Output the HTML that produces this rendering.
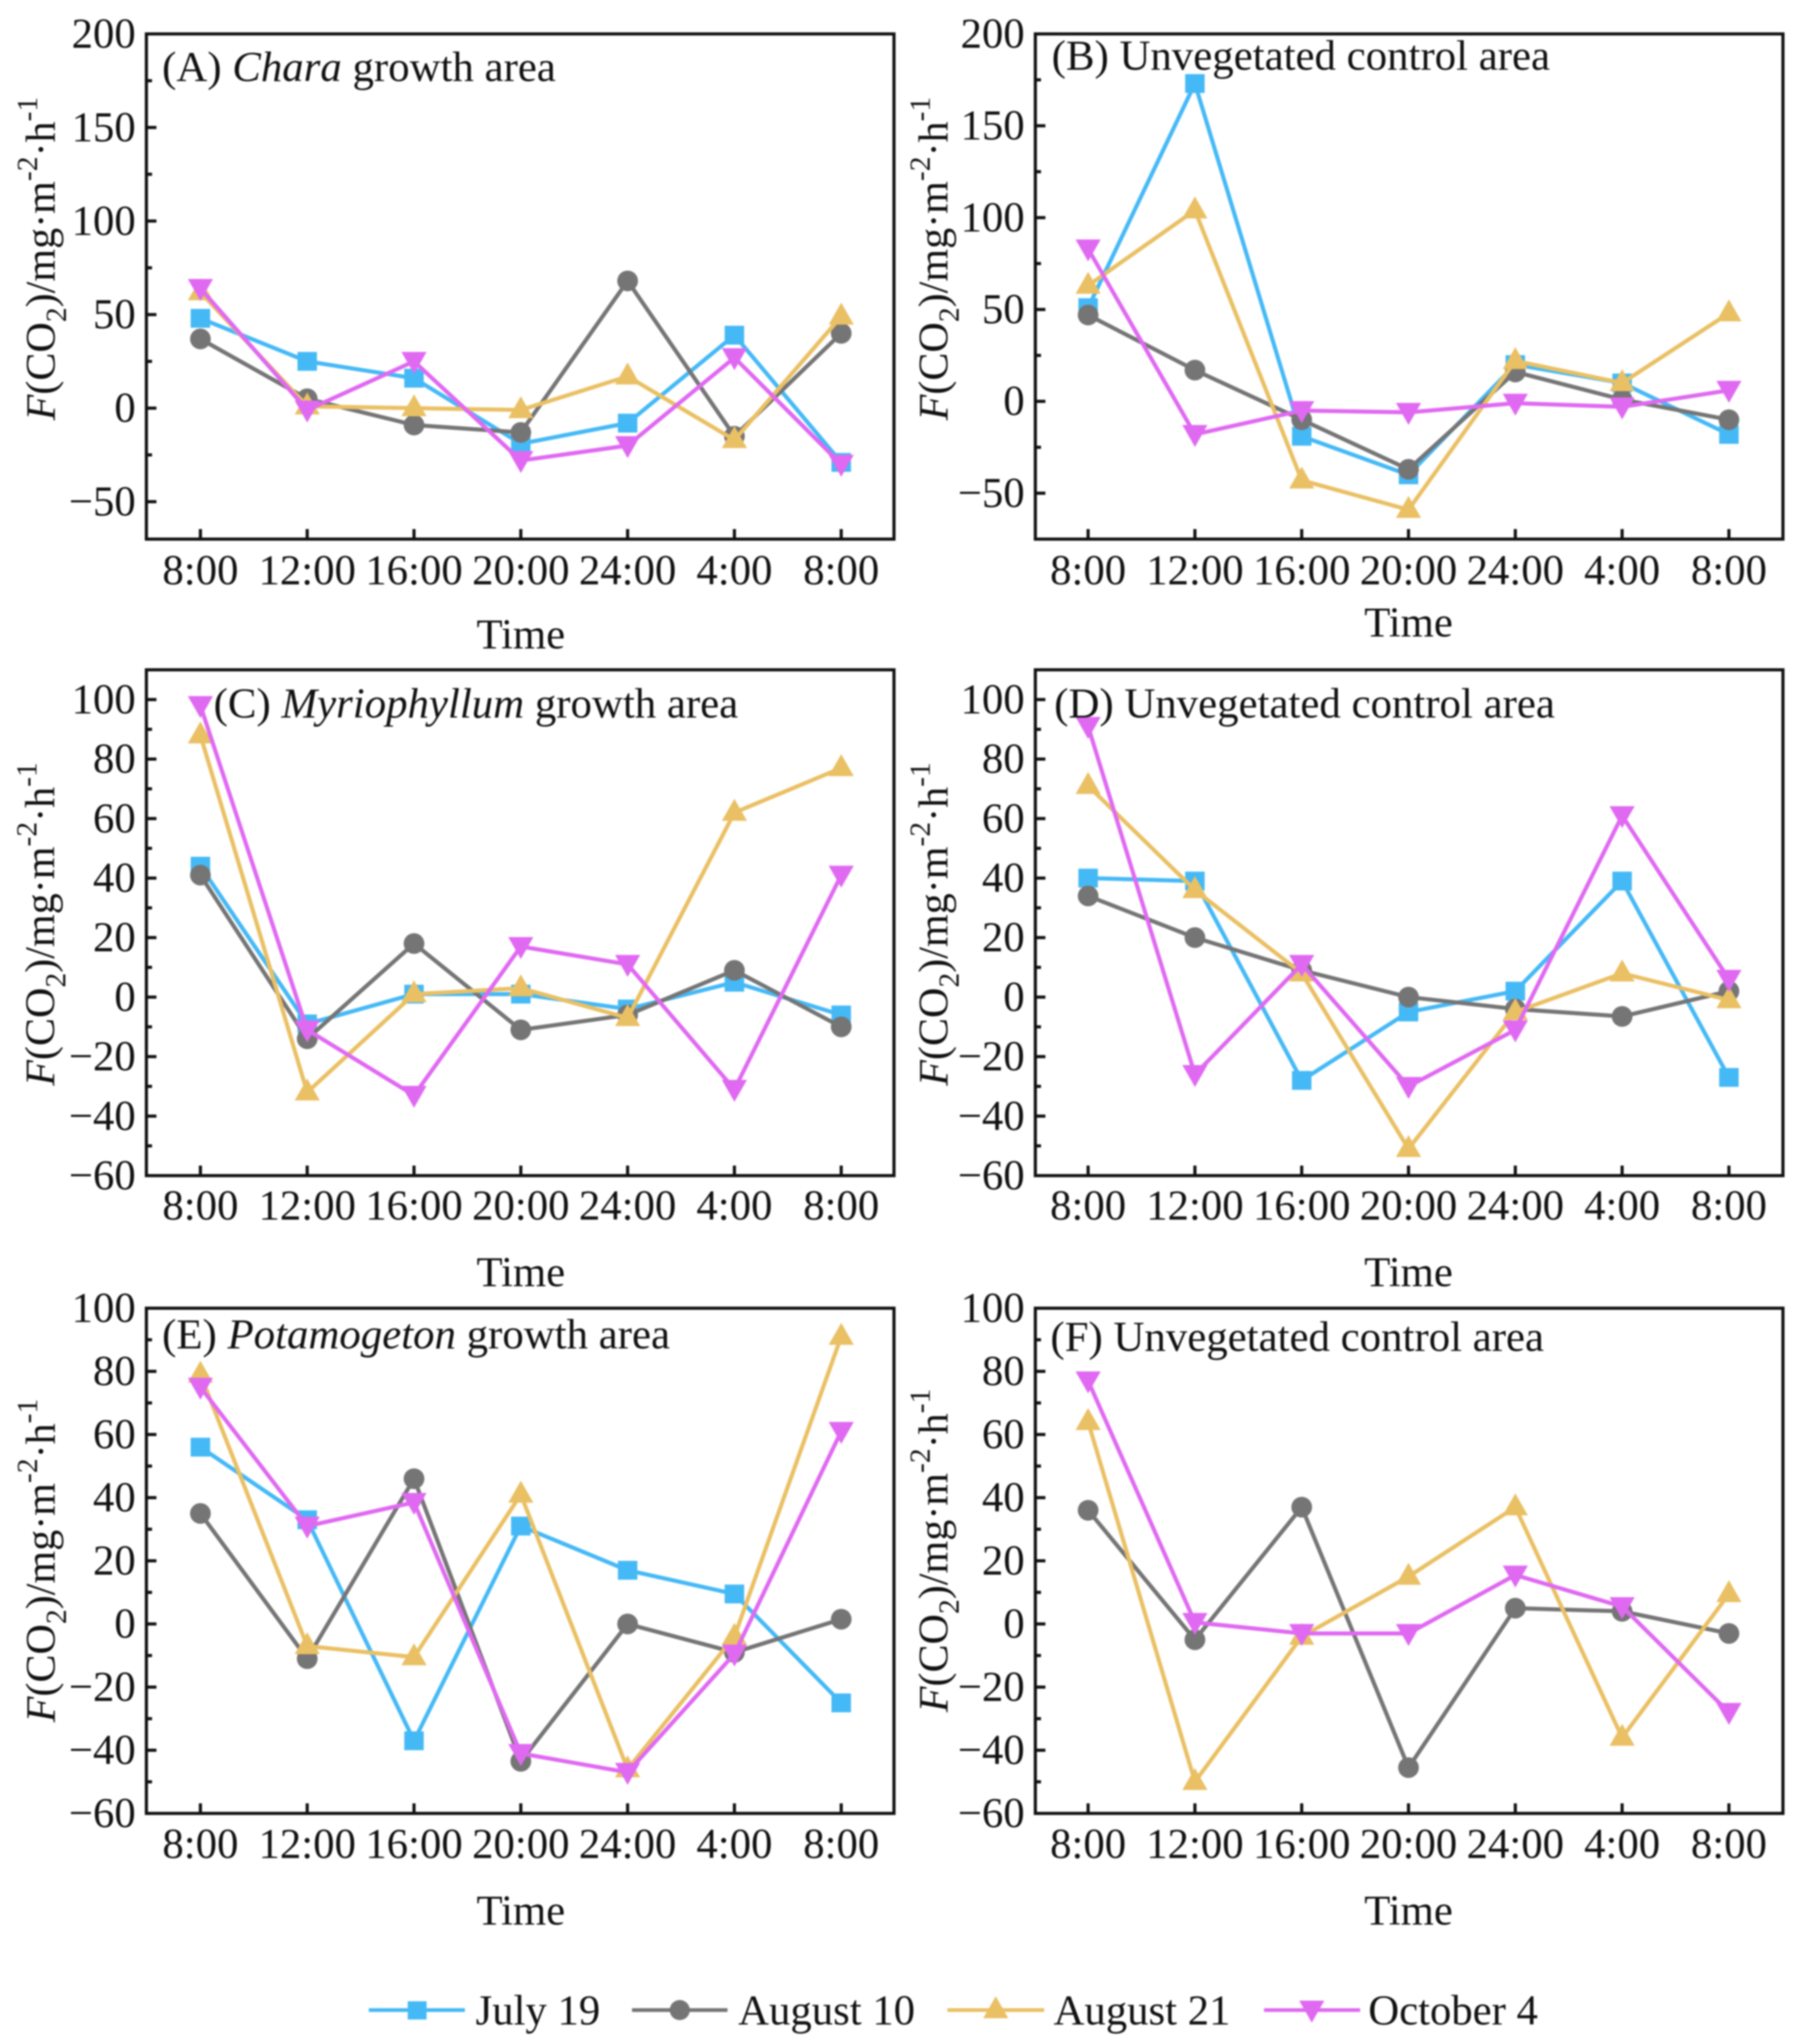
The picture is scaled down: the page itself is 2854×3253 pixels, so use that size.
<!DOCTYPE html>
<html lang="en">
<head>
<meta charset="utf-8">
<title>CO2 flux panels</title>
<style>
html,body{margin:0;padding:0;background:#fff;}
svg{display:block;filter:blur(1.4px);}
text{font-family:"Liberation Serif",serif;fill:#111;}
.t{font-size:68px;}
.c{font-size:68.2px;}
.y{font-size:67px;}
.i{font-style:italic;}
</style>
</head>
<body>
<svg id="chart" xmlns="http://www.w3.org/2000/svg" width="2854" height="3253" viewBox="0 0 2854 3253">
<rect x="0" y="0" width="2854" height="3253" fill="#fff"/>

<g id="panel-a"></g>
<g id="panel-b"></g>
<g id="panel-c"></g>
<g id="panel-d"></g>
<g id="panel-e"></g>
<g id="panel-f"></g>

<text class="c" x="258" y="129">(A) <tspan class="i">Chara</tspan> growth area</text>
<text class="c" x="1674" y="111">(B) Unvegetated control area</text>
<text class="c" x="340" y="1142">(C) <tspan class="i">Myriophyllum</tspan> growth area</text>
<text class="c" x="1678" y="1142">(D) Unvegetated control area</text>
<text class="c" x="258" y="2146">(E) <tspan class="i">Potamogeton</tspan> growth area</text>
<text class="c" x="1672" y="2150">(F) Unvegetated control area</text>

<text class="t" x="829" y="1032" text-anchor="middle">Time</text>
<text class="t" x="2242" y="1013" text-anchor="middle">Time</text>
<text class="t" x="829" y="2047" text-anchor="middle">Time</text>
<text class="t" x="2242" y="2047" text-anchor="middle">Time</text>
<text class="t" x="829" y="3063" text-anchor="middle">Time</text>
<text class="t" x="2242" y="3063" text-anchor="middle">Time</text>

<text class="y" transform="translate(87 669) rotate(-90)"><tspan class="i">F</tspan>(CO<tspan dy="18" font-size="47">2</tspan><tspan dy="-18">)/mg·m</tspan><tspan dy="-28" font-size="47">-2</tspan><tspan dy="28">·h</tspan><tspan dy="-28" font-size="47">-1</tspan></text>
<text class="y" transform="translate(1508 669) rotate(-90)"><tspan class="i">F</tspan>(CO<tspan dy="18" font-size="47">2</tspan><tspan dy="-18">)/mg·m</tspan><tspan dy="-28" font-size="47">-2</tspan><tspan dy="28">·h</tspan><tspan dy="-28" font-size="47">-1</tspan></text>
<text class="y" transform="translate(86 1728) rotate(-90)"><tspan class="i">F</tspan>(CO<tspan dy="18" font-size="47">2</tspan><tspan dy="-18">)/mg·m</tspan><tspan dy="-28" font-size="47">-2</tspan><tspan dy="28">·h</tspan><tspan dy="-28" font-size="47">-1</tspan></text>
<text class="y" transform="translate(1508 1728) rotate(-90)"><tspan class="i">F</tspan>(CO<tspan dy="18" font-size="47">2</tspan><tspan dy="-18">)/mg·m</tspan><tspan dy="-28" font-size="47">-2</tspan><tspan dy="28">·h</tspan><tspan dy="-28" font-size="47">-1</tspan></text>
<text class="y" transform="translate(87 2741) rotate(-90)"><tspan class="i">F</tspan>(CO<tspan dy="18" font-size="47">2</tspan><tspan dy="-18">)/mg·m</tspan><tspan dy="-28" font-size="47">-2</tspan><tspan dy="28">·h</tspan><tspan dy="-28" font-size="47">-1</tspan></text>
<text class="y" transform="translate(1508 2725) rotate(-90)"><tspan class="i">F</tspan>(CO<tspan dy="18" font-size="47">2</tspan><tspan dy="-18">)/mg·m</tspan><tspan dy="-28" font-size="47">-2</tspan><tspan dy="28">·h</tspan><tspan dy="-28" font-size="47">-1</tspan></text>

<g>
  <g>
    <line x1="587" y1="3199" x2="740" y2="3199" stroke="#45b9f6" stroke-width="6"/>
    <rect x="649" y="3185" width="30" height="29" fill="#45b9f6"/>
    <text class="t" x="757" y="3222">July 19</text>
  </g>
  <g>
    <line x1="1006" y1="3199" x2="1158" y2="3199" stroke="#757575" stroke-width="6"/>
    <circle cx="1082" cy="3199" r="16" fill="#757575"/>
    <text class="t" x="1175" y="3222">August 10</text>
  </g>
  <g>
    <line x1="1508" y1="3199" x2="1662" y2="3199" stroke="#eac064" stroke-width="6"/>
    <polygon points="1585,3177 1605,3212 1565,3212" fill="#eac064"/>
    <text class="t" x="1677" y="3222">August 21</text>
  </g>
  <g>
    <line x1="2012" y1="3199" x2="2165" y2="3199" stroke="#e069f2" stroke-width="6"/>
    <polygon points="2088,3219 2068,3184 2108,3184" fill="#e069f2"/>
    <text class="t" x="2178" y="3222">October 4</text>
  </g>
</g>
</svg>

<script>
const categories = ["8:00", "12:00", "16:00", "20:00", "24:00", "4:00", "8:00"];

const ticksA = [-50, 0, 50, 100, 150, 200];
const ticksB = [-50, 0, 50, 100, 150, 200];
const ticksC = [-60, -40, -20, 0, 20, 40, 60, 80, 100];
const ticksD = [-60, -40, -20, 0, 20, 40, 60, 80, 100];
const ticksE = [-60, -40, -20, 0, 20, 40, 60, 80, 100];
const ticksF = [-60, -40, -20, 0, 20, 40, 60, 80, 100];

const panelA_july19 = [48, 25, 16, -19, -8, 39, -29];
const panelA_august10 = [37, 5, -9, -13, 68, -15, 40];
const panelA_august21 = [62, 1, 0, -1, 17, -17, 49];
const panelA_october4 = [64, -1, 25, -28, -20, 27, -30];

const panelB_july19 = [51, 173, -19, -40, 20, 10, -18];
const panelB_august10 = [47, 17, -10, -37, 16, 1, -10];
const panelB_august21 = [63, 104, -43, -59, 22, 10, 48];
const panelB_october4 = [83, -18, -5, -6, -1, -3, 6];

const panelC_july19 = [44, -9, 1, 1, -4, 5, -6];
const panelC_august10 = [41, -14, 18, -11, -6, 9, -10];
const panelC_august21 = [88, -32, 1, 3, -7, 62, 77];
const panelC_october4 = [98, -11, -33, 17, 11, -31, 41];

const panelD_july19 = [40, 39, -28, -5, 2, 39, -27];
const panelD_august10 = [34, 20, 9, 0, -4, -6.5, 2];
const panelD_august21 = [71, 36, 8, -51, -5, 8, -1];
const panelD_october4 = [91, -26, 11, -30, -11, 61, 6];

const panelE_july19 = [56, 33, -37, 31, 17, 9.5, -25];
const panelE_august10 = [35, -11, 46, -43.5, 0, -9, 1.5];
const panelE_august21 = [79, -7, -10.5, 41, -46, -4, 91];
const panelE_october4 = [75, 31, 38.5, -41, -47, -9.5, 61];

const panelF_august10 = [36, -5, 37, -45.5, 5, 4, -3];
const panelF_august21 = [64, -50, -4, 15, 37, -36, 9.5];
const panelF_october4 = [77, 0.5, -3, -3, 15.5, 5.5, -28];

const NS = "http://www.w3.org/2000/svg";
const BLUE = "#45b9f6", GRAY = "#757575", GOLD = "#eac064", MAGENTA = "#e069f2";

function mk(tag, attrs, parent) {
  const el = document.createElementNS(NS, tag);
  for (const k in attrs) el.setAttribute(k, attrs[k]);
  parent.appendChild(el);
  return el;
}

function makeScales(g) {
  return {
    x: function (i) { return g.x0 + i * g.xStep; },
    y: function (v) { return g.bottom - (v - g.yMin) * (g.bottom - g.yTopPx) / (g.yMax - g.yMin); }
  };
}

function drawAxes(id, g, ticks, sc) {
  const root = document.getElementById(id);

  const frame = mk("rect", { x: g.left, y: g.top, width: g.right - g.left, height: g.bottom - g.top, fill: "none", stroke: "#111", "stroke-width": 5 }, root);
  
  

  const step = ticks[1] - ticks[0];
  for (let m = ticks[0] - step / 2; m <= g.yMax; m += step) {
    if (m <= g.yMin || m >= g.yMax) continue;
    const minor = mk("line", { x1: g.left, x2: g.left + 9, y1: sc.y(m), y2: sc.y(m), stroke: "#111", "stroke-width": 5 }, root);
    
    
  }

  ticks.forEach(function (t) {
    const tick = mk("line", { x1: g.left, x2: g.left + 16, y1: sc.y(t), y2: sc.y(t), stroke: "#111", "stroke-width": 5 }, root);
    
    

    const label = mk("text", { x: g.left - 17, y: sc.y(t) + 22, "text-anchor": "end", class: "t" }, root);
    label.textContent = String(t).replace("-", "\u2212");
    
    
  });

  categories.forEach(function (c, i) {
    const tick = mk("line", { x1: sc.x(i), x2: sc.x(i), y1: g.bottom, y2: g.bottom - 16, stroke: "#111", "stroke-width": 5 }, root);
    
    

    const label = mk("text", { x: sc.x(i), y: g.xLabelY, "text-anchor": "middle", class: "t" }, root);
    label.textContent = c;
    
    
  });
}

function drawMarker(root, kind, color, cx, cy) {
  let el;
  if (kind === "square") {
    el = mk("rect", { x: cx - 15.5, y: cy - 15, width: 31, height: 30, fill: color }, root);
  } else if (kind === "circle") {
    el = mk("circle", { cx: cx, cy: cy, r: 16.5, fill: color }, root);
  } else if (kind === "up") {
    el = mk("polygon", { points: (cx) + "," + (cy - 22) + " " + (cx + 20) + "," + (cy + 13) + " " + (cx - 20) + "," + (cy + 13), fill: color }, root);
  } else {
    el = mk("polygon", { points: (cx) + "," + (cy + 20) + " " + (cx + 20) + "," + (cy - 15) + " " + (cx - 20) + "," + (cy - 15), fill: color }, root);
  }
  
  
}

function drawSeries(id, sc, values, color, kind, seriesName) {
  const root = document.getElementById(id);
  const group = mk("g", {}, root);
  
  

  const pts = values.map(function (v, i) { return sc.x(i) + "," + sc.y(v); }).join(" ");
  const line = mk("polyline", { points: pts, fill: "none", stroke: color, "stroke-width": 6.5, "stroke-linejoin": "round" }, group);
  
  

  values.forEach(function (v, i) { drawMarker(group, kind, color, sc.x(i), sc.y(v)); });
}

const geomA = { left: 233, right: 1423, top: 54, bottom: 858, x0: 319, xStep: 170, yMin: -70, yMax: 200, yTopPx: 54, xLabelY: 930 };
const geomB = { left: 1648, right: 2838, top: 54, bottom: 858, x0: 1732, xStep: 170, yMin: -75, yMax: 200, yTopPx: 54, xLabelY: 930 };
const geomC = { left: 233, right: 1423, top: 1066, bottom: 1871, x0: 319, xStep: 170, yMin: -60, yMax: 110, yTopPx: 1066, xLabelY: 1941 };
const geomD = { left: 1648, right: 2838, top: 1066, bottom: 1871, x0: 1732, xStep: 170, yMin: -60, yMax: 110, yTopPx: 1066, xLabelY: 1941 };
const geomE = { left: 233, right: 1423, top: 2082, bottom: 2886, x0: 319, xStep: 170, yMin: -60, yMax: 100, yTopPx: 2082, xLabelY: 2957 };
const geomF = { left: 1648, right: 2838, top: 2082, bottom: 2886, x0: 1732, xStep: 170, yMin: -60, yMax: 100, yTopPx: 2082, xLabelY: 2957 };

function drawPanel(id, g, ticks, july, aug10, aug21, oct4) {
  const sc = makeScales(g);
  drawAxes(id, g, ticks, sc);
  if (july) drawSeries(id, sc, july, BLUE, "square", "series-july-19");
  drawSeries(id, sc, aug10, GRAY, "circle", "series-august-10");
  drawSeries(id, sc, aug21, GOLD, "up", "series-august-21");
  drawSeries(id, sc, oct4, MAGENTA, "down", "series-october-4");
}

drawPanel("panel-a", geomA, ticksA, panelA_july19, panelA_august10, panelA_august21, panelA_october4);
drawPanel("panel-b", geomB, ticksB, panelB_july19, panelB_august10, panelB_august21, panelB_october4);
drawPanel("panel-c", geomC, ticksC, panelC_july19, panelC_august10, panelC_august21, panelC_october4);
drawPanel("panel-d", geomD, ticksD, panelD_july19, panelD_august10, panelD_august21, panelD_october4);
drawPanel("panel-e", geomE, ticksE, panelE_july19, panelE_august10, panelE_august21, panelE_october4);
drawPanel("panel-f", geomF, ticksF, null, panelF_august10, panelF_august21, panelF_october4);
</script>
</body>
</html>
